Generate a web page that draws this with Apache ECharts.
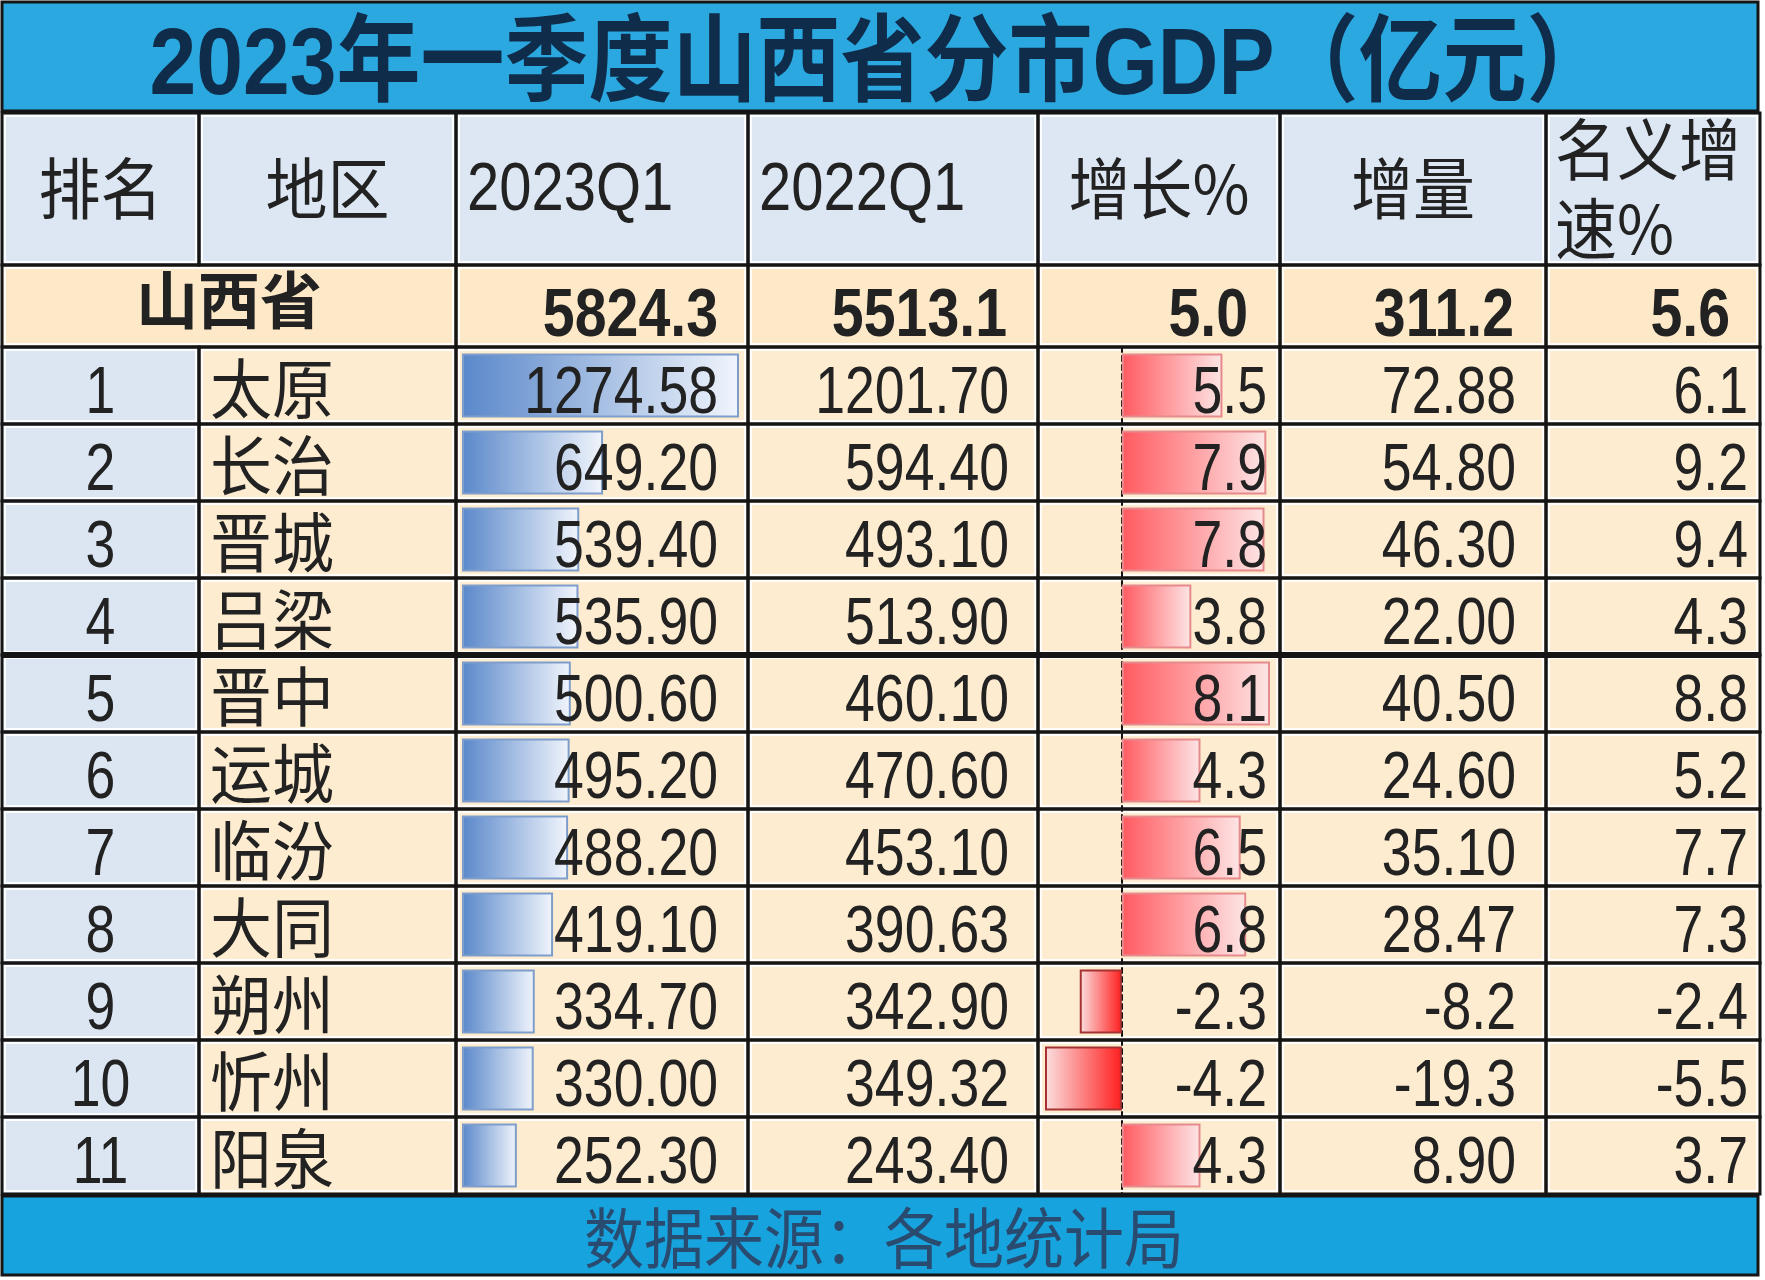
<!DOCTYPE html>
<html>
<head>
<meta charset="utf-8">
<script src="https://cdn.jsdelivr.net/npm/echarts@6/dist/echarts.min.js"></script>
<style>
html, body { margin: 0; padding: 0; background: #fff; }
#main { width: 1765px; height: 1280px; }
</style>
</head>
<body>
<div id="main"></div>
<script>
// 数据
var titleText = '2023年一季度山西省分市GDP（亿元）';
var sourceText = '数据来源：各地统计局';
var headers = ['排名', '地区', '2023Q1', '2022Q1', '增长%', '增量', '名义增\n速%'];
var provinceName = '山西省';
var provinceValues = ['5824.3', '5513.1', '5.0', '311.2', '5.6'];
var ranks = ['1', '2', '3', '4', '5', '6', '7', '8', '9', '10', '11'];
var cities = ['太原', '长治', '晋城', '吕梁', '晋中', '运城', '临汾', '大同', '朔州', '忻州', '阳泉'];
var gdp2023 = [1274.58, 649.20, 539.40, 535.90, 500.60, 495.20, 488.20, 419.10, 334.70, 330.00, 252.30];
var gdp2022 = [1201.70, 594.40, 493.10, 513.90, 460.10, 470.60, 453.10, 390.63, 342.90, 349.32, 243.40];
var growth = [5.5, 7.9, 7.8, 3.8, 8.1, 4.3, 6.5, 6.8, -2.3, -4.2, 4.3];
var increase = ['72.88', '54.80', '46.30', '22.00', '40.50', '24.60', '35.10', '28.47', '-8.2', '-19.3', '8.90'];
var nominal = [6.1, 9.2, 9.4, 4.3, 8.8, 5.2, 7.7, 7.3, -2.4, -5.5, 3.7];

// 版式
var colW = [197, 257, 292, 290, 242, 266, 214];
var rowH = [152, 82].concat(cities.map(function () { return 77; }));
var thickAfter = 3; // 第4行下面是粗线

var colE = [0], rowE = [0];
colW.forEach(function (w, i) { colE.push(colE[i] + w); });
rowH.forEach(function (h, i) { rowE.push(rowE[i] + h); });

// 数字用窄一点的 Arial 体（没有 Narrow 字体，只好横向压缩）
var NUM = '"Liberation Sans", Arial, sans-serif';
var CJK = '"Noto Sans CJK SC", "Liberation Sans", sans-serif';
var LINE = '#151515';

var cells = [];
function addCell(c0, c1, r, text, opt) {
    cells.push(Object.assign({ c0: c0, c1: c1, r: r, text: text, sx: 1, sy: 1 }, opt));
}

// 表头
var headAlign = ['center', 'center', 'left', 'left', 'center', 'center', 'left'];
var headPad = [0, 0, 11, 11, 0, 0, 9];
headers.forEach(function (h, c) {
    var isNum = c === 2 || c === 3;
    addCell(c, c + 1, 0, h, {
        bg: '#dde7f3', align: headAlign[c], pad: headPad[c], dy: isNum ? 2 : 0,
        font: 'normal ' + (isNum ? '69px ' + NUM : '62px ' + CJK),
        sx: isNum ? 0.84 : 1, sy: isNum ? 1 : 1.08, lh: 73
    });
});

// 全省
addCell(0, 2, 1, provinceName, { bg: '#fde9c8', align: 'center', pad: 0, dy: -6, font: 'bold 62px ' + CJK });
var provPad = [30, 31, 32, 32, 30];
provinceValues.forEach(function (v, i) {
    addCell(i + 2, i + 3, 1, v, {
        bg: '#fde9c8', align: 'right', pad: provPad[i], dy: 11,
        font: 'bold 69px ' + NUM, sx: 0.83
    });
});

// 各市
var numPad = [30, 29, 13, 30, 12];
cities.forEach(function (name, i) {
    var r = i + 2;
    var vals = [gdp2023[i].toFixed(2), gdp2022[i].toFixed(2), growth[i].toFixed(1), increase[i], nominal[i].toFixed(1)];
    addCell(0, 1, r, ranks[i], { bg: '#dce6f2', align: 'center', pad: 0, dy: 9, font: 'normal 67px ' + NUM, sx: 0.8 });
    addCell(1, 2, r, name, { bg: '#fdecd0', align: 'left', pad: 11, dy: 3, font: 'normal 62px ' + CJK, sy: 1.04 });
    vals.forEach(function (v, k) {
        addCell(k + 2, k + 3, r, v, {
            bg: '#fdecd0', align: 'right', pad: numPad[k], dy: 9,
            font: 'normal 67px ' + NUM, sx: 0.8
        });
    });
});

var cellData = cells.map(function (c) {
    return [colE[c.c0], rowE[c.r], colE[c.c1], rowE[c.r + 1]];
});

function cellRect(api) {
    var p0 = api.coord([api.value(0), api.value(1)]);
    var p1 = api.coord([api.value(2), api.value(3)]);
    return { x: p0[0], y: p0[1], width: p1[0] - p0[0], height: p1[1] - p0[1] };
}

function renderBg(params, api) {
    var c = cells[params.dataIndex];
    var r = cellRect(api);
    return {
        type: 'group',
        children: [
            { type: 'rect', shape: r, style: { fill: c.bg } },
            {
                type: 'rect',
                shape: { x: r.x + 3, y: r.y + 3, width: r.width - 6, height: r.height - 6 },
                style: { fill: 'none', stroke: 'rgba(255,255,255,0.9)', lineWidth: 2 }
            }
        ]
    };
}

function renderFg(params, api) {
    var c = cells[params.dataIndex];
    var r = cellRect(api);
    var tx = c.align === 'left' ? r.x + c.pad : c.align === 'right' ? r.x + r.width - c.pad : r.x + r.width / 2;
    var children = [
        {
            type: 'text',
            x: tx,
            y: r.y + r.height / 2 + c.dy,
            scaleX: c.sx,
            scaleY: c.sy,
            style: {
                text: c.text, fill: '#222', font: c.font,
                align: c.align, textAlign: c.align,
                verticalAlign: 'middle', textVerticalAlign: 'middle',
                lineHeight: c.lh || 0
            }
        },
        { type: 'rect', shape: r, style: { fill: 'none', stroke: LINE, lineWidth: 3 } }
    ];
    if (c.r === thickAfter + 2) {
        children.push({
            type: 'line',
            shape: { x1: r.x, y1: r.y + r.height, x2: r.x + r.width, y2: r.y + r.height },
            style: { stroke: LINE, lineWidth: 6 }
        });
    }
    return { type: 'group', children: children };
}

var tableTop = 113;
var bodyTop = tableTop + rowH[0] + rowH[1];
var bodyH = rowE[rowE.length - 1] - rowH[0] - rowH[1];

var hidden = { show: false };

var option = {
    animation: false,
    backgroundColor: '#fff',
    graphic: [
        {
            type: 'rect', z: -10,
            shape: { x: 2, y: 2, width: 1756, height: 109 },
            style: { fill: '#2ba8df', stroke: LINE, lineWidth: 3 }
        },
        {
            type: 'text', z: 10, x: 880, y: 68, scaleY: 1.13,
            style: {
                text: titleText, fill: '#0f2c4a',
                font: 'bold 84px "Liberation Sans", "Noto Sans CJK SC", sans-serif',
                align: 'center', verticalAlign: 'middle'
            }
        },
        {
            type: 'rect', z: -10,
            shape: { x: 2, y: 1196, width: 1756, height: 79 },
            style: { fill: '#17a4de', stroke: LINE, lineWidth: 3 }
        },
        {
            type: 'text', z: 10, x: 884, y: 1238, scaleY: 1.1,
            style: {
                text: sourceText, fill: '#2a4b70',
                font: 'normal 60px "Noto Sans CJK SC", sans-serif',
                align: 'center', verticalAlign: 'middle'
            }
        }
    ],
    grid: [
        { left: 2, top: tableTop, width: colE[colE.length - 1], height: rowE[rowE.length - 1] },
        { left: colE[2] + 8, top: bodyTop, width: colW[2] - 15, height: bodyH },
        { left: colE[4] + 9, top: bodyTop, width: colW[4] - 17, height: bodyH }
    ],
    xAxis: [
        { type: 'value', gridIndex: 0, min: 0, max: colE[colE.length - 1], show: false },
        { type: 'value', gridIndex: 1, min: 0, max: 'dataMax', show: false },
        { type: 'value', gridIndex: 2, min: 'dataMin', max: 'dataMax', show: false }
    ],
    yAxis: [
        { type: 'value', gridIndex: 0, min: 0, max: rowE[rowE.length - 1], inverse: true, show: false },
        {
            type: 'category', gridIndex: 1, data: cities, inverse: true,
            axisLine: hidden, axisTick: hidden, axisLabel: hidden, splitLine: hidden
        },
        {
            type: 'category', gridIndex: 2, data: cities, inverse: true,
            axisLine: { show: true, onZero: true, lineStyle: { color: '#111', width: 2, type: [5, 4] } },
            axisTick: hidden, axisLabel: hidden, splitLine: hidden
        }
    ],
    series: [
        {
            type: 'custom', name: 'cellBg', z: -2, silent: true,
            xAxisIndex: 0, yAxisIndex: 0,
            encode: { x: [0, 2], y: [1, 3] },
            renderItem: renderBg, data: cellData
        },
        {
            type: 'bar', name: '2023Q1', xAxisIndex: 1, yAxisIndex: 1, z: 2,
            barWidth: '83%', silent: true,
            itemStyle: {
                color: new echarts.graphic.LinearGradient(0, 0, 1, 0, [
                    { offset: 0, color: '#5a88ca' },
                    { offset: 1, color: '#f1f5fc' }
                ]),
                borderColor: '#7e9dcb', borderWidth: 2
            },
            data: gdp2023
        },
        {
            type: 'bar', name: '增长%', xAxisIndex: 2, yAxisIndex: 2, z: 2,
            barWidth: '83%', silent: true,
            data: growth.map(function (v) {
                return {
                    value: v,
                    itemStyle: v >= 0 ? {
                        color: new echarts.graphic.LinearGradient(0, 0, 1, 0, [
                            { offset: 0, color: '#ff5a60' },
                            { offset: 1, color: '#fde6e6' }
                        ]),
                        borderColor: '#e58a8d', borderWidth: 2
                    } : {
                        color: new echarts.graphic.LinearGradient(0, 0, 1, 0, [
                            { offset: 0, color: '#fbe0e0' },
                            { offset: 1, color: '#ff1f1f' }
                        ]),
                        borderColor: '#a83232', borderWidth: 2
                    }
                };
            })
        },
        {
            type: 'custom', name: 'cellFg', z: 5, silent: true,
            xAxisIndex: 0, yAxisIndex: 0,
            encode: { x: [0, 2], y: [1, 3] },
            renderItem: renderFg, data: cellData
        }
    ]
};

var chart = echarts.init(document.getElementById('main'));
chart.setOption(option);
window.onresize = function () {
    chart.resize();
};
</script>
</body>
</html>
